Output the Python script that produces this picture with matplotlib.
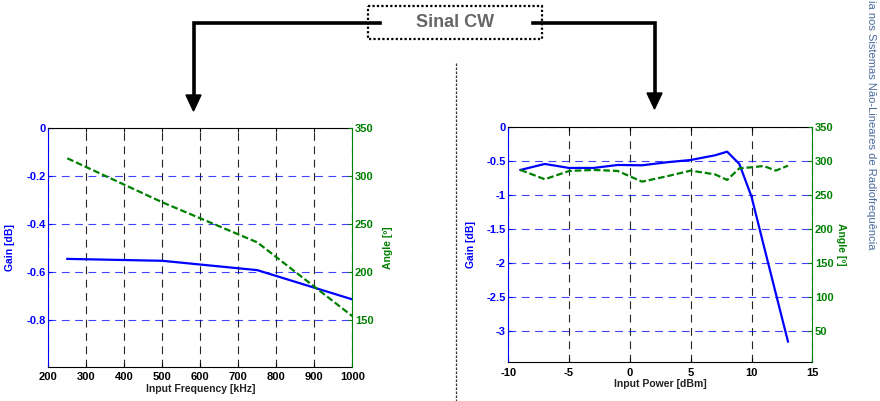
import matplotlib
matplotlib.use("Agg")
from matplotlib import pyplot as plt
from matplotlib.patches import Rectangle, Polygon

plt.rcParams['font.family'] = ['Liberation Sans', 'DejaVu Sans']
plt.rcParams['axes.unicode_minus'] = False

# Left panel: frequency sweep
freq = [250, 500, 750, 1000]
gain_freq = [-0.545, -0.553, -0.592, -0.714]
angle_freq = [318.7, 272.8, 231.0, 154.0]

# Right panel: power sweep
pin = [-9, -7, -5, -3, -1, 1, 3, 5, 7, 8, 9, 10, 11, 12, 13]
gain_pin = [-0.635, -0.547, -0.606, -0.606, -0.562, -0.567, -0.523, -0.489,
            -0.42, -0.367, -0.547, -1.027, -1.74, -2.45, -3.155]
angle_pin = [286.5, 272.8, 285.0, 286.5, 285.0, 269.3, 277.0, 285.5,
             280.0, 271.8, 288.9, 290.4, 292.3, 285.5, 292.8]

BLUE = (0, 0, 1)
GREEN = (0, 0.5, 0)
W, H = 880, 401

fig = plt.figure(figsize=(8.8, 4.01), dpi=100)


def painel(rect, x, g, a, xlim, xticks, ylim, yticks, ylim2, yticks2,
           xlabel, yticklabels, rot2, lbl_x, lbl2_x):
    ax = fig.add_axes(rect)
    ax.plot(x, g, color=BLUE, lw=1.6, zorder=3)
    ax.set_xlim(*xlim)
    ax.set_ylim(*ylim)
    ax.set_xticks(xticks)
    ax.set_yticks(yticks)
    ax.set_yticklabels(yticklabels)
    ax.spines['right'].set_visible(False)
    ax.spines['left'].set_color(BLUE)
    ax.spines['bottom'].set_color('black')
    ax.spines['top'].set_color('black')
    ax.tick_params(axis='y', colors=BLUE, direction='in', length=3, pad=2, labelsize=8)
    ax.tick_params(axis='x', colors='black', direction='in', length=3, pad=4, labelsize=8,
                   top=True)
    for t in ax.get_xticklabels() + ax.get_yticklabels():
        t.set_fontweight('bold')
    ax.xaxis.grid(True, color='black', ls=(0, (7, 5)), lw=0.8, alpha=0.85)
    ax.yaxis.grid(True, color=BLUE, ls=(0, (7, 5)), lw=0.8, alpha=0.75)
    ax.set_axisbelow(True)
    ax.set_xlabel(xlabel, fontsize=7.5, fontweight='bold', labelpad=1, color='#222222')
    ax.set_ylabel('Gain [dB]', fontsize=7.5, fontweight='bold', color=BLUE)
    ax.yaxis.set_label_coords(lbl_x, 0.5)

    ax2 = ax.twinx()
    ax2.plot(x, a, color=GREEN, lw=1.6, ls=(0, (3, 1.3)), zorder=3)
    ax2.set_ylim(*ylim2)
    ax2.set_yticks(yticks2)
    for s in ['top', 'left', 'bottom']:
        ax2.spines[s].set_visible(False)
    ax2.spines['right'].set_color(GREEN)
    ax2.tick_params(axis='y', colors=GREEN, direction='in', length=3, pad=2, labelsize=8)
    for t in ax2.get_yticklabels():
        t.set_fontweight('bold')
    ax2.set_ylabel('Angle [º]', fontsize=7.5, fontweight='bold', color=GREEN, rotation=rot2)
    ax2.yaxis.set_label_coords(lbl2_x, 0.5)
    return ax, ax2


painel([48.3 / W, 1 - 366.7 / H, 304 / W, 238.4 / H], freq, gain_freq, angle_freq,
       (200, 1000), range(200, 1001, 100), (-0.995, 0), [0, -0.2, -0.4, -0.6, -0.8],
       (101.25, 350), [150, 200, 250, 300, 350], 'Input Frequency [kHz]',
       ['0', '-0.2', '-0.4', '-0.6', '-0.8'], 90, -0.11, 1.1)

painel([508.3 / W, 1 - 362.3 / H, 304 / W, 235.6 / H], pin, gain_pin, angle_pin,
       (-10, 15), [-10, -5, 0, 5, 10, 15], (-3.46, 0),
       [0, -0.5, -1, -1.5, -2, -2.5, -3],
       (4, 350), [50, 100, 150, 200, 250, 300, 350], 'Input Power [dBm]',
       ['0', '-0.5', '-1', '-1.5', '-2', '-2.5', '-3'], 270, -0.105, 1.11)

# diagram overlay in pixel coordinates
ov = fig.add_axes([0, 0, 1, 1], zorder=10)
ov.set_xlim(0, W)
ov.set_ylim(H, 0)
ov.axis('off')
ov.patch.set_alpha(0)

ov.add_patch(Rectangle((368, 6), 174, 33, fill=False, ec='black', lw=1.6, ls=(0, (1, 1))))
ov.text(455, 22.5, 'Sinal CW', ha='center', va='center', fontsize=13, fontweight='bold', color='#666666')

ov.plot([380, 193.5, 193.5], [23, 23, 96], color='black', lw=2.6, solid_joinstyle='miter')
ov.add_patch(Polygon([[186, 95], [201, 95], [193.5, 111]], closed=True, color='black'))
ov.plot([533, 654.5, 654.5], [23, 23, 94], color='black', lw=2.6, solid_joinstyle='miter')
ov.add_patch(Polygon([[647, 93], [662, 93], [654.5, 109]], closed=True, color='black'))

ov.plot([455.5, 455.5], [63, 401], color='#333333', lw=0.9, ls=(0, (2, 1.2)))

fig.text(871 / W, 1.0, 'ia nos Sistemas Não-Lineares de Radiofrequência', rotation=270,
         ha='center', va='top', fontsize=8.05, color='#4a6a9a')

fig.savefig('out.png', dpi=100)
